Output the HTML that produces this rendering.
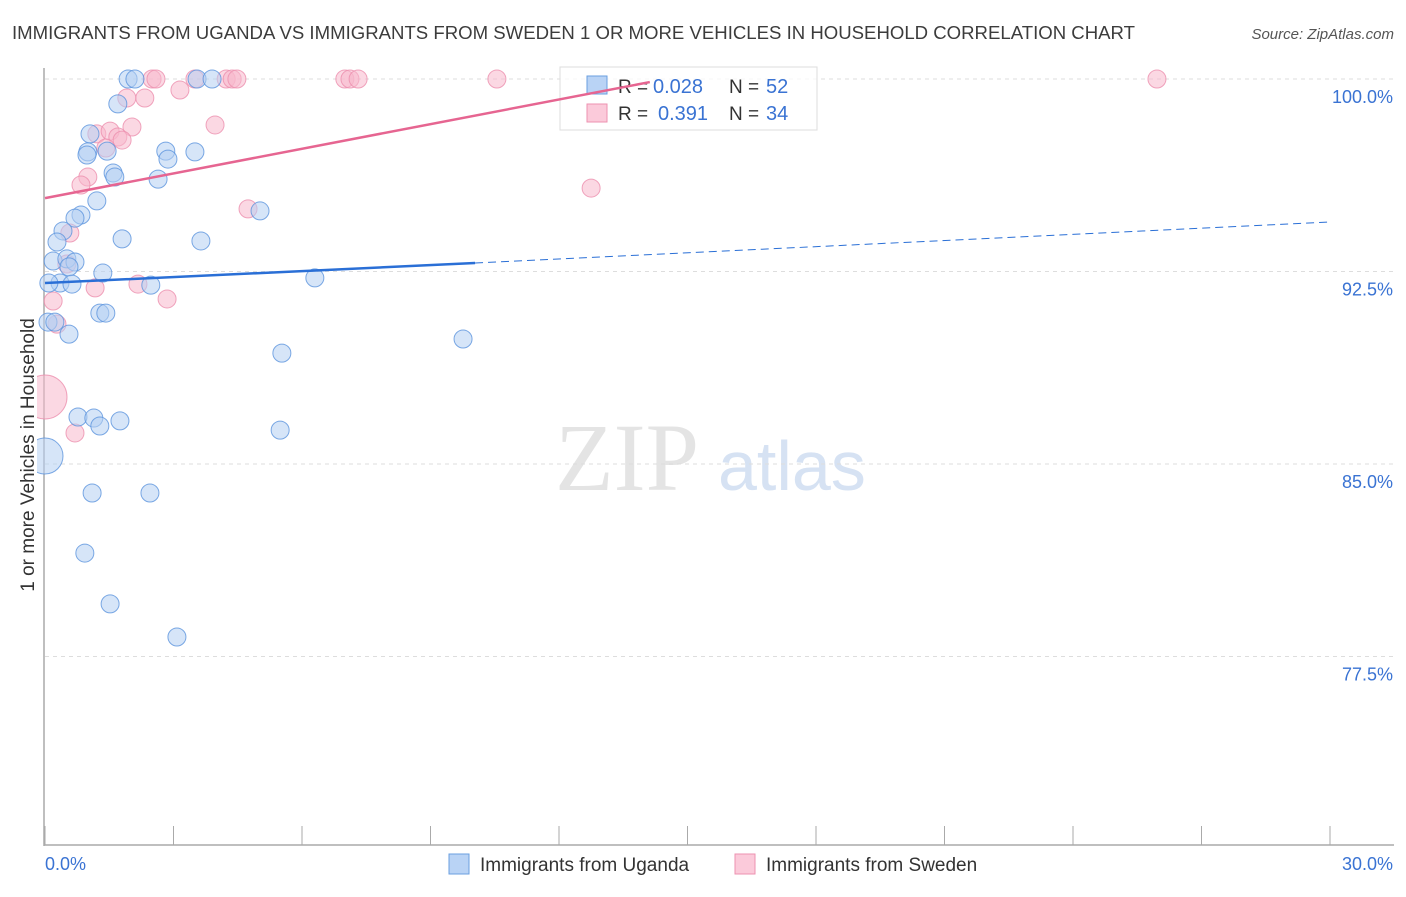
<!DOCTYPE html>
<html><head><meta charset="utf-8"><style>
body{margin:0;background:#fff;font-family:"Liberation Sans",sans-serif}
</style></head><body>
<svg id="c" width="1406" height="892" xmlns="http://www.w3.org/2000/svg" font-family="Liberation Sans, sans-serif">
<defs><clipPath id="plotclip"><rect x="37" y="50" width="1370" height="800"/></clipPath></defs>
<text x="12" y="39" font-size="18" fill="#3c3c3c" textLength="1123" lengthAdjust="spacingAndGlyphs">IMMIGRANTS FROM UGANDA VS IMMIGRANTS FROM SWEDEN 1 OR MORE VEHICLES IN HOUSEHOLD CORRELATION CHART</text>
<text x="1394" y="39" font-size="15" fill="#555" font-style="italic" text-anchor="end">Source: ZipAtlas.com</text>
<text x="555" y="490" font-size="96" fill="#e4e4e4" font-family="Liberation Serif, serif">ZIP</text>
<text x="718" y="490" font-size="70" fill="#d6e2f3">atlas</text>
<text transform="translate(34,455) rotate(-90)" font-size="19" fill="#333" text-anchor="middle">1 or more Vehicles in Household</text>
<g id="grid"></g><g id="axes"></g><g id="pts" clip-path="url(#plotclip)"></g>
<g>
<rect x="560" y="67" width="257" height="63" fill="#fff" fill-opacity="0.75" stroke="#ddd"/>
<rect x="587" y="76" width="20" height="18" fill="#b9d3f5" stroke="#6a9fe0"/>
<text x="618" y="93" font-size="19" fill="#333">R =</text><text x="653" y="93" font-size="20" fill="#3a73d3">0.028</text>
<text x="729" y="93" font-size="19" fill="#333">N =</text><text x="766" y="93" font-size="20" fill="#3a73d3">52</text>
<rect x="587" y="104" width="20" height="18" fill="#fbcada" stroke="#ee92b0"/>
<text x="618" y="120" font-size="19" fill="#333">R =</text><text x="658" y="120" font-size="20" fill="#3a73d3">0.391</text>
<text x="729" y="120" font-size="19" fill="#333">N =</text><text x="766" y="120" font-size="20" fill="#3a73d3">34</text>
</g>
<g id="trend"></g>
<g>
<rect x="449" y="854" width="20" height="20" fill="#b9d3f5" stroke="#6a9fe0"/>
<text x="480" y="871" font-size="19" fill="#333">Immigrants from Uganda</text>
<rect x="735" y="854" width="20" height="20" fill="#fbcada" stroke="#ee92b0"/>
<text x="766" y="871" font-size="19" fill="#333">Immigrants from Sweden</text>
</g>
</svg>
<script>
const yTicks=[100,92.5,85,77.5];
const yTickLabels=["100.0%","92.5%","85.0%","77.5%"];
const xTickLabels=["0.0%","30.0%"];
const ugX=[1.94,2.10,3.55,3.90,1.70,1.05,1.00,0.98,1.45,2.82,2.87,3.50,1.59,1.63,2.64,1.21,0.84,0.70,5.02,0.42,0.28,1.80,3.64,0.19,0.51,0.70,0.56,1.35,6.30,2.47,0.35,0.63,0.09,1.28,1.42,0.07,0.23,0.56,5.53,9.76,0.77,1.14,1.28,1.75,5.49,0.00,1.10,2.45,0.93,1.52,3.08];
const ugY=[100,100,100,100,99.03,97.86,97.16,97.04,97.19,97.19,96.88,97.16,96.34,96.18,96.10,95.25,94.70,94.58,94.86,94.08,93.65,93.77,93.69,92.91,92.99,92.87,92.68,92.44,92.25,91.97,92.05,92.01,92.05,90.88,90.88,90.53,90.53,90.06,89.32,89.87,86.83,86.79,86.48,86.68,86.32,85.31,83.87,83.87,81.53,79.55,78.26];
const swX=[2.50,2.59,3.50,4.23,4.37,4.48,7.00,7.12,7.31,10.55,25.96,3.15,2.33,1.91,2.03,3.97,1.21,1.52,1.70,1.80,1.42,1.00,0.84,4.74,12.75,0.58,0.51,2.17,1.17,2.85,0.19,0.28,0.00,0.70];
const swY=[100,100,100,100,100,100,100,100,100,100,100,99.57,99.26,99.26,98.13,98.21,97.86,97.97,97.74,97.62,97.31,96.18,95.87,94.94,95.75,94.00,92.79,92.01,91.86,91.43,91.35,90.45,87.61,86.21];
const ugTrend=[[0,92.05],[10.04,92.83],[30,94.43]];
const swTrend=[[0,95.36],[14.12,99.88]];
const X0=45,X1=1330,xMax=30,Y100=79,pxPerPct=192.5/7.5;
const sx=v=>X0+v/xMax*(X1-X0);
const sy=v=>Y100+(100-v)*pxPerPct;
const NS="http://www.w3.org/2000/svg";
function mk(t,a,p){const e=document.createElementNS(NS,t);for(const k in a)e.setAttribute(k,a[k]);document.getElementById(p).appendChild(e);return e;}
yTicks.forEach((v,i)=>{
 const g=mk('line',{x1:45,x2:1394,y1:sy(v),y2:sy(v),stroke:'#ddd','stroke-dasharray':'4,4'},'grid');
 
 
 const t=mk('text',{x:1393,y:sy(v)+24,'font-size':18,fill:'#3a73d3','text-anchor':'end'},'grid');
 t.textContent=yTickLabels[i];
 
 
});
let ax=mk('line',{x1:44,x2:44,y1:68,y2:846,stroke:'#aaa','stroke-width':1.5},'axes');


ax=mk('line',{x1:44,x2:1394,y1:845,y2:845,stroke:'#aaa','stroke-width':1.5},'axes');


for(let i=0;i<=10;i++){const v=i*3;const l=mk('line',{x1:sx(v),x2:sx(v),y1:826,y2:845,stroke:'#aaa'},'axes');
 
 }
let t=mk('text',{x:45,y:870,'font-size':18,fill:'#3a73d3'},'axes');t.textContent=xTickLabels[0];


t=mk('text',{x:1393,y:870,'font-size':18,fill:'#3a73d3','text-anchor':'end'},'axes');t.textContent=xTickLabels[1];


function pts(xs,ys,fill,stroke,name){xs.forEach((x,i)=>{const big=(x===0);
 const c=mk('circle',{cx:sx(x),cy:sy(ys[i]),r:big?(name==='sweden-point'?22:18):9,fill:fill,'fill-opacity':0.55,stroke:stroke,'stroke-opacity':0.8},'pts');
 
 });}
pts(swX,swY,'#f8b8cc','#ec8fae','sweden-point');
pts(ugX,ugY,'#b5cff2','#5b93dd','uganda-point');
let l=mk('line',{x1:sx(ugTrend[0][0]),y1:sy(ugTrend[0][1]),x2:sx(ugTrend[1][0]),y2:sy(ugTrend[1][1]),stroke:'#2a6fd6','stroke-width':2.5},'trend');


l=mk('line',{x1:sx(ugTrend[1][0]),y1:sy(ugTrend[1][1]),x2:sx(ugTrend[2][0]),y2:sy(ugTrend[2][1]),stroke:'#2a6fd6','stroke-width':1,'stroke-dasharray':'8,5'},'trend');


l=mk('line',{x1:sx(swTrend[0][0]),y1:sy(swTrend[0][1]),x2:sx(swTrend[1][0]),y2:sy(swTrend[1][1]),stroke:'#e66591','stroke-width':2.5},'trend');


</script>
</body></html>
